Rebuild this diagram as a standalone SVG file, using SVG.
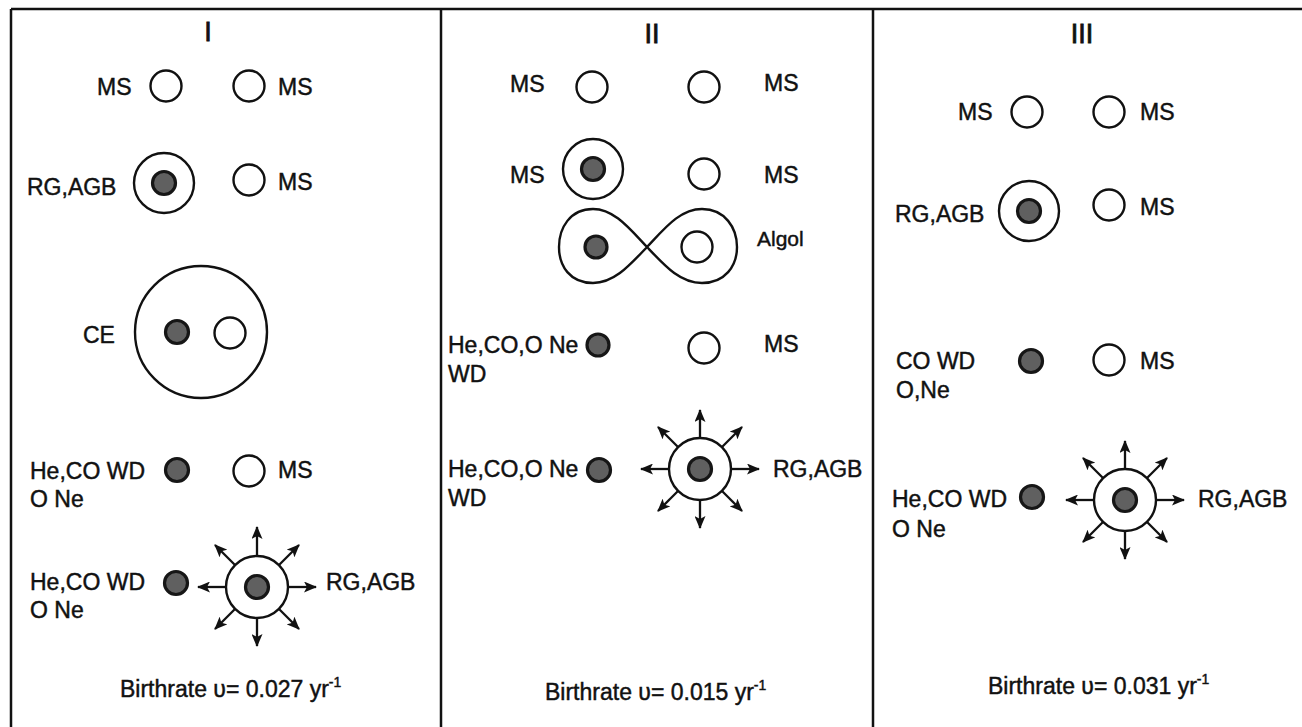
<svg xmlns="http://www.w3.org/2000/svg" width="1302" height="727" viewBox="0 0 1302 727">
<style>
text{font-family:"Liberation Sans",Arial,sans-serif;font-size:23px;fill:#111;stroke:#111;stroke-width:0.45}
.t{font-size:27px;stroke-width:0.8}
.sm{font-size:21px}
.sup{font-size:14px}
.frame{stroke:#111;stroke-width:2.5;fill:none}
.o{fill:#fff;stroke:#111;stroke-width:2.4}
.ring{fill:none;stroke:#111;stroke-width:2.4}
.dot{fill:#606060;stroke:#161616;stroke-width:3.2}
.arr{stroke:#111;stroke-width:2.3;fill:none;marker-end:url(#ah)}
</style>
<defs>
<marker id="ah" markerUnits="userSpaceOnUse" markerWidth="13" markerHeight="11" refX="12" refY="5.5" orient="auto">
<path d="M0,0 L13,5.5 L0,11 L3,5.5 Z" fill="#111"/>
</marker>
</defs>
<rect width="1302" height="727" fill="#fff"/>
<g id="frame">
<line class="frame" x1="11" y1="9" x2="1302" y2="9"/>
<line class="frame" x1="11" y1="9" x2="11" y2="727"/>
<line class="frame" x1="441" y1="9" x2="441" y2="727"/>
<line class="frame" x1="873" y1="9" x2="873" y2="727"/>
</g>
<!-- Panel I -->
<g id="panel1">
<text class="t" x="208" y="41" text-anchor="middle">I</text>
<g id="p1-ms-ms">
<text x="97" y="95">MS</text><circle class="o" cx="166" cy="86" r="15.5"/>
<circle class="o" cx="249" cy="86" r="15.5"/><text x="278" y="95">MS</text>
</g>
<g id="p1-rg-ms">
<text x="27" y="195">RG,AGB</text>
<circle class="ring" cx="164" cy="183" r="30"/><circle class="dot" cx="164" cy="183" r="11.5"/>
<circle class="o" cx="249" cy="180" r="15.5"/><text x="278" y="190">MS</text>
</g>
<g id="p1-ce">
<text x="83" y="343">CE</text>
<circle class="ring" cx="201" cy="332" r="66"/>
<circle class="dot" cx="177" cy="332" r="11.5"/>
<circle class="o" cx="230" cy="333" r="15.5"/>
</g>
<g id="p1-wd-ms">
<text x="30" y="479">He,CO WD</text><text x="30" y="507">O Ne</text>
<circle class="dot" cx="177" cy="470" r="11.5"/>
<circle class="o" cx="249" cy="471" r="15.5"/><text x="278" y="478">MS</text>
</g>
<g id="p1-wd-rg">
<text x="30" y="590">He,CO WD</text><text x="30" y="618">O Ne</text>
<circle class="dot" cx="176" cy="583" r="11.5"/>
<circle class="ring" cx="257" cy="587" r="31"/><circle class="dot" cx="257" cy="587" r="11.5"/>
<text x="326" y="590">RG,AGB</text>
</g>
<text x="120" y="697">Birthrate υ= 0.027 yr<tspan class="sup" dy="-10">-1</tspan></text>
</g>
<!-- Panel II -->
<g id="panel2">
<text class="t" x="652" y="43" text-anchor="middle">II</text>
<g id="p2-ms-ms">
<text x="510" y="92">MS</text><circle class="o" cx="592" cy="87" r="15.5"/>
<circle class="o" cx="704" cy="87" r="15.5"/><text x="764" y="91">MS</text>
</g>
<g id="p2-ms-ms2">
<text x="510" y="183">MS</text>
<circle class="ring" cx="593" cy="169" r="30"/><circle class="dot" cx="593" cy="169" r="11.5"/>
<circle class="o" cx="704" cy="174" r="15.5"/><text x="764" y="183">MS</text>
</g>
<g id="p2-algol">
<path class="ring" d="M647 247 C665 228 680 209 702 209 C725 209 737 228 737 247 C737 266 725 283 702 283 C680 283 665 266 647 247 C629 228 614 209 593 209 C570 209 559 228 559 247 C559 266 570 283 593 283 C614 283 629 266 647 247 Z"/>
<circle class="dot" cx="596" cy="247" r="11"/>
<circle class="o" cx="697" cy="247" r="15.5"/>
<text class="sm" x="757" y="246">Algol</text>
</g>
<g id="p2-wd-ms">
<text x="448" y="353">He,CO,O Ne</text><text x="448" y="382">WD</text>
<circle class="dot" cx="598" cy="345" r="11"/>
<circle class="o" cx="704" cy="348" r="15.5"/><text x="764" y="352">MS</text>
</g>
<g id="p2-wd-rg">
<text x="448" y="477">He,CO,O Ne</text><text x="448" y="506">WD</text>
<circle class="dot" cx="599" cy="470" r="11.5"/>
<circle class="ring" cx="700" cy="469" r="31"/><circle class="dot" cx="700" cy="469" r="11.5"/>
<text x="773" y="477">RG,AGB</text>
</g>
<text x="545" y="700">Birthrate υ= 0.015 yr<tspan class="sup" dy="-10">-1</tspan></text>
</g>
<!-- Panel III -->
<g id="panel3">
<text class="t" x="1082" y="43" text-anchor="middle">III</text>
<g id="p3-ms-ms">
<text x="958" y="120">MS</text><circle class="o" cx="1027" cy="112" r="15.5"/>
<circle class="o" cx="1109" cy="112" r="15.5"/><text x="1140" y="120">MS</text>
</g>
<g id="p3-rg-ms">
<text x="895" y="222">RG,AGB</text>
<circle class="ring" cx="1029" cy="211" r="30"/><circle class="dot" cx="1029" cy="211" r="11.5"/>
<circle class="o" cx="1109" cy="205" r="15.5"/><text x="1140" y="215">MS</text>
</g>
<g id="p3-wd-ms">
<text x="896" y="369">CO WD</text><text x="896" y="398">O,Ne</text>
<circle class="dot" cx="1031" cy="361" r="11.5"/>
<circle class="o" cx="1109" cy="360" r="15.5"/><text x="1140" y="369">MS</text>
</g>
<g id="p3-wd-rg">
<text x="892" y="507">He,CO WD</text><text x="892" y="537">O Ne</text>
<circle class="dot" cx="1032" cy="497" r="11.5"/>
<circle class="ring" cx="1125" cy="500" r="31"/><circle class="dot" cx="1125" cy="500" r="11.5"/>
<text x="1198" y="507">RG,AGB</text>
</g>
<text x="988" y="694">Birthrate υ= 0.031 yr<tspan class="sup" dy="-10">-1</tspan></text>
</g>
<!-- connectors: wind arrows -->
<g id="connectors">
<line class="arr" x1="257" y1="556" x2="257" y2="527"/>
<line class="arr" x1="257" y1="618" x2="257" y2="646"/>
<line class="arr" x1="226" y1="587" x2="198" y2="587"/>
<line class="arr" x1="288" y1="587" x2="316" y2="587"/>
<line class="arr" x1="235" y1="565" x2="215" y2="545"/>
<line class="arr" x1="279" y1="565" x2="299" y2="545"/>
<line class="arr" x1="235" y1="609" x2="215" y2="629"/>
<line class="arr" x1="279" y1="609" x2="299" y2="629"/>

<line class="arr" x1="700" y1="438" x2="700" y2="410"/>
<line class="arr" x1="700" y1="500" x2="700" y2="528"/>
<line class="arr" x1="669" y1="469" x2="641" y2="469"/>
<line class="arr" x1="731" y1="469" x2="759" y2="469"/>
<line class="arr" x1="678" y1="447" x2="658" y2="427"/>
<line class="arr" x1="722" y1="447" x2="742" y2="427"/>
<line class="arr" x1="678" y1="491" x2="658" y2="511"/>
<line class="arr" x1="722" y1="491" x2="742" y2="511"/>

<line class="arr" x1="1125" y1="469" x2="1125" y2="441"/>
<line class="arr" x1="1125" y1="531" x2="1125" y2="559"/>
<line class="arr" x1="1094" y1="500" x2="1066" y2="500"/>
<line class="arr" x1="1156" y1="500" x2="1184" y2="500"/>
<line class="arr" x1="1103" y1="478" x2="1083" y2="458"/>
<line class="arr" x1="1147" y1="478" x2="1167" y2="458"/>
<line class="arr" x1="1103" y1="522" x2="1083" y2="542"/>
<line class="arr" x1="1147" y1="522" x2="1167" y2="542"/>
</g>
</svg>
